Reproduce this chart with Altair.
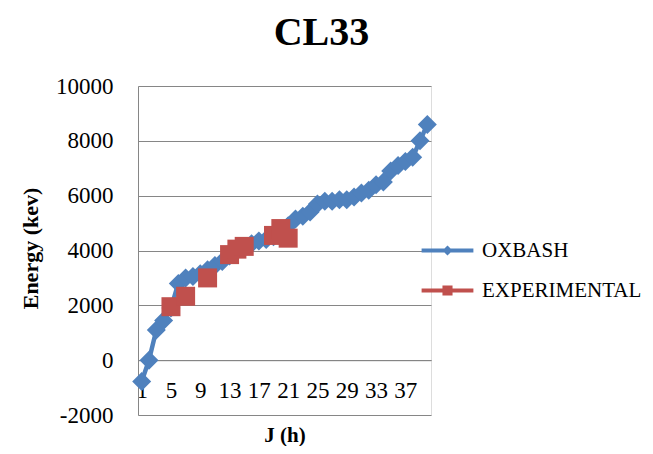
import altair as alt
import pandas as pd

# ---- data ----
cats = list(range(1, 41))
oxbash = [-780, 0, 1100, 1450, 1900, 2800, 3000, 3050, 3150, 3300,
          3450, 3600, 3800, 4000, 4150, 4250, 4350, 4400, 4500, 4650,
          4900, 5150, 5250, 5400, 5700, 5800, 5800, 5850, 5850, 5950,
          6100, 6200, 6400, 6500, 6900, 7100, 7250, 7400, 8000, 8600]
exp_cats = [5, 7, 10, 13, 14, 15, 19, 20, 21]
exp_vals = [1950, 2330, 3000, 3850, 4050, 4150, 4550, 4800, 4450]
x_tick_vals = [1, 5, 9, 13, 17, 21, 25, 29, 33, 37]
y_tick_vals = [-2000, 0, 2000, 4000, 6000, 8000, 10000]
series_names = ["OXBASH", "EXPERIMENTAL"]
series_colors = ["#4F81BD", "#C0504D"]

rows = []
for c, v in zip(cats, oxbash):
    rows.append({"J": c, "E": v, "series": "OXBASH", "grp": "ox"})
grp = 0
prev = None
for c, v in zip(exp_cats, exp_vals):
    if prev is not None and c != prev + 1:
        grp += 1
    rows.append({"J": c, "E": v, "series": "EXPERIMENTAL", "grp": f"ex{grp}"})
    prev = c
df = pd.DataFrame(rows)

serif = "Liberation Serif"

# legend symbols: line + marker
ox_path = "M-3.6,-0.28H-0.42L0,-0.7L0.42,-0.28H3.6V0.28H0.42L0,0.7L-0.42,0.28H-3.6Z"
ex_path = "M-3.6,-0.28H-0.7V-0.7H0.7V-0.28H3.6V0.28H0.7V0.7H-0.7V0.28H-3.6Z"

xenc = alt.X("J:Q",
             scale=alt.Scale(domain=[0.5, 40.5], nice=False, zero=False),
             axis=alt.Axis(values=x_tick_vals, title="J (h)", grid=False, ticks=False,
                           domain=True, domainColor="#868686", offset=-54.8,
                           labelFont=serif, labelFontSize=23, labelColor="black",
                           labelPadding=19, labelFlush=False, labelOverlap=False,
                           labelSeparation=0,
                           titleFont=serif, titleFontSize=21, titleFontWeight="bold",
                           titleColor="black", titlePadding=22))
yenc = alt.Y("E:Q",
             scale=alt.Scale(domain=[-2000, 10000], nice=False),
             axis=alt.Axis(values=y_tick_vals, title="Energy (kev)", grid=True,
                           labelExpr="datum.value < 0 ? '-' + abs(datum.value) : '' + datum.value",
                           gridColor="#868686", gridWidth=1, ticks=False,
                           domain=True, domainColor="#868686",
                           labelFont=serif, labelFontSize=23, labelColor="black",
                           labelPadding=25, labelOverlap=False,
                           titleFont=serif, titleFontSize=22, titleFontWeight="bold",
                           titleColor="black", titleX=-108, titleY=162,
                           titleAngle=270, titleBaseline="middle", titleAlign="center"))

color_scale = alt.Scale(domain=series_names, range=series_colors)

base = alt.Chart(df).encode(x=xenc, y=yenc)

lines = base.mark_line(strokeWidth=4.5).encode(
    color=alt.Color("series:N", scale=color_scale, legend=None),
    detail="grp:N",
)

points = base.mark_point(filled=True, opacity=1, size=361).encode(
    color=alt.Color("series:N", scale=color_scale, legend=None),
    shape=alt.Shape("series:N",
                    scale=alt.Scale(domain=series_names, range=["diamond", "square"]),
                    legend=None),
)

leg = dict(title=None, orient="none", legendX=299, legendY=154,
           labelFont=serif, labelFontSize=21, labelColor="black",
           symbolSize=207, symbolStrokeWidth=0, symbolOpacity=1,
           labelOffset=24, rowPadding=18)

legend_layer = base.mark_point(filled=True, opacity=1, size=0).encode(
    color=alt.Color("series:N", scale=alt.Scale(domain=series_names, range=series_colors),
                    legend=alt.Legend(**leg)),
    shape=alt.Shape("series:N",
                    scale=alt.Scale(domain=series_names, range=[ox_path, ex_path]),
                    legend=alt.Legend(**leg)),
)

chart = alt.layer(lines, points, legend_layer).resolve_scale(
    color="independent", shape="independent"
).properties(
    width=293, height=329,
    title=alt.TitleParams("CL33", font=serif, fontSize=40, fontWeight="bold",
                          color="black", anchor="middle", dx=37, dy=14,
                          baseline="alphabetic"),
    autosize=alt.AutoSizeParams(type="none"),
    padding={"left": 130, "top": 78, "right": 214, "bottom": 31},
).configure_view(stroke=None).configure_axisX(labelOverlap=False).configure(background="white")

chart.save("out.html", embed_options={"renderer": "svg", "actions": False})
